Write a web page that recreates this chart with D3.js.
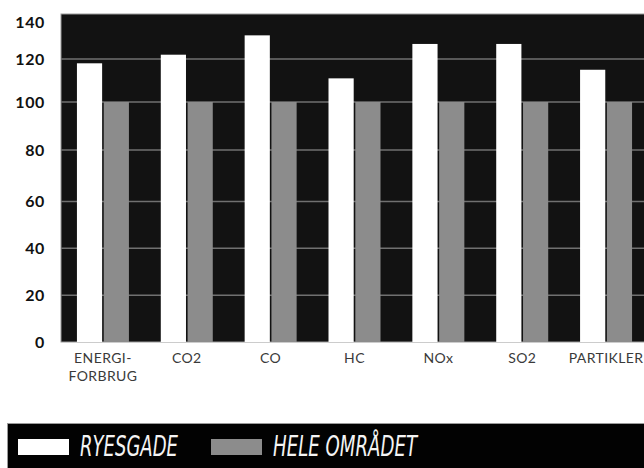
<!DOCTYPE html>
<html>
<head>
<meta charset="utf-8">
<script src="https://cdn.jsdelivr.net/npm/d3@7"></script>
<style>
  html, body { margin: 0; padding: 0; background: #fff; }
  svg { display: block; }
</style>
</head>
<body>
<svg id="chart" width="644" height="468"></svg>
<script>
// Emission index per category: Ryesgade vs. the whole area (= 100)
const categories = ["ENERGI-\nFORBRUG", "CO2", "CO", "HC", "NOx", "SO2", "PARTIKLER"];
const seriesNames = ["RYESGADE", "HELE OMRÅDET"];
const ryesgade = [118, 122, 131, 111, 127, 127, 115];
const heleOmraadet = [100, 100, 100, 100, 100, 100, 100];
const yTicks = [0, 20, 40, 60, 80, 100, 120, 140];

const seriesColors = ["#ffffff", "#8c8c8c"];

const svg = d3.select("#chart");

const plot = { left: 61, top: 14, right: 648, bottom: 342 };

const x = d3.scaleBand()
  .domain(categories)
  .range([plot.left, plot.right])
  .paddingInner(0.38)
  .paddingOuter(0.19);

const xSub = d3.scaleBand()
  .domain(seriesNames)
  .range([0, x.bandwidth()])
  .paddingInner(0.06);

// Printed axis spacing is slightly uneven; piecewise-linear scale follows it
const y = d3.scaleLinear()
  .domain([0, 60, 80, 100, 140])
  .range([plot.bottom, 201.5, 150, 102, 16]);

// Plot background
svg.append("rect")
  .attr("x", plot.left)
  .attr("y", plot.top)
  .attr("width", plot.right - plot.left)
  .attr("height", plot.bottom - plot.top)
  .attr("fill", "#121212")
  .attr("stroke", "#9a9a9a")
  .attr("stroke-width", 1);

// Horizontal grid lines
svg.append("g")
  .selectAll("line")
  .data(yTicks.filter(d => d > 0 && d < 140))
  .join("line")
  .attr("x1", plot.left)
  .attr("x2", plot.right)
  .attr("y1", d => y(d))
  .attr("y2", d => y(d))
  .attr("stroke", "#707070")
  .attr("stroke-width", 1.5);

// Bars
const rows = categories.map((c, i) => ({ cat: c, values: [ryesgade[i], heleOmraadet[i]] }));

const groups = svg.append("g")
  .selectAll("g")
  .data(rows)
  .join("g")
  .attr("transform", d => `translate(${x(d.cat)},0)`);

groups.selectAll("rect")
  .data(d => d.values.map((v, j) => ({ name: seriesNames[j], value: v, color: seriesColors[j] })))
  .join("rect")
  .attr("x", d => xSub(d.name))
  .attr("width", xSub.bandwidth())
  .attr("y", d => y(d.value))
  .attr("height", d => y(0) - y(d.value))
  .attr("fill", d => d.color);

// Y axis labels
const yAxis = d3.axisLeft(y).tickValues(yTicks).tickSize(0).tickPadding(0);
const yG = svg.append("g")
  .attr("transform", `translate(45,0)`)
  .call(yAxis);
yG.select(".domain").remove();
yG.selectAll("text")
  .attr("font-family", "Lato, 'DejaVu Sans', sans-serif")
  .attr("font-weight", "bold")
  .attr("font-size", 16)
  .attr("letter-spacing", 0.6)
  .attr("fill", "#111");
yG.selectAll(".tick").filter(d => d === 140).select("text").attr("dy", "0.7em");

// X axis labels (multi-line)
const xG = svg.append("g");
xG.selectAll("text")
  .data(categories)
  .join("text")
  .attr("x", d => x(d) + x.bandwidth() / 2)
  .attr("y", 363)
  .attr("text-anchor", "middle")
  .attr("font-family", "Lato, 'DejaVu Sans', sans-serif")
  .attr("font-size", 14)
  .attr("letter-spacing", 0.4)
  .attr("fill", "#3a3a3a")
  .each(function (d) {
    const lines = d.split("\n");
    d3.select(this).selectAll("tspan")
      .data(lines)
      .join("tspan")
      .attr("x", x(d) + x.bandwidth() / 2)
      .attr("dy", (l, k) => (k === 0 ? 0 : 18))
      .text(l => l);
  });

// Legend band
const legend = svg.append("g");
legend.append("rect")
  .attr("x", 7.5)
  .attr("y", 423.5)
  .attr("width", 640)
  .attr("height", 50)
  .attr("fill", "#020202")
  .attr("stroke", "#9a9a9a")
  .attr("stroke-width", 1);

const legendItems = [
  { name: seriesNames[0], color: seriesColors[0], sx: 18, tx: 80, tw: 98 },
  { name: seriesNames[1], color: seriesColors[1], sx: 211, tx: 273, tw: 144 }
];

legend.selectAll("rect.swatch")
  .data(legendItems)
  .join("rect")
  .attr("class", "swatch")
  .attr("x", d => d.sx)
  .attr("y", 439)
  .attr("width", 51)
  .attr("height", 16)
  .attr("fill", d => d.color);

legend.selectAll("text")
  .data(legendItems)
  .join("text")
  .attr("x", d => d.tx)
  .attr("y", 456)
  .attr("font-family", "'Liberation Sans Narrow', 'DejaVu Sans Condensed', sans-serif")
  .attr("font-style", "italic")
  .attr("font-size", 28)
  .attr("fill", "#f4f4f4")
  .attr("textLength", d => d.tw)
  .attr("lengthAdjust", "spacingAndGlyphs")
  .text(d => d.name);
</script>
</body>
</html>
